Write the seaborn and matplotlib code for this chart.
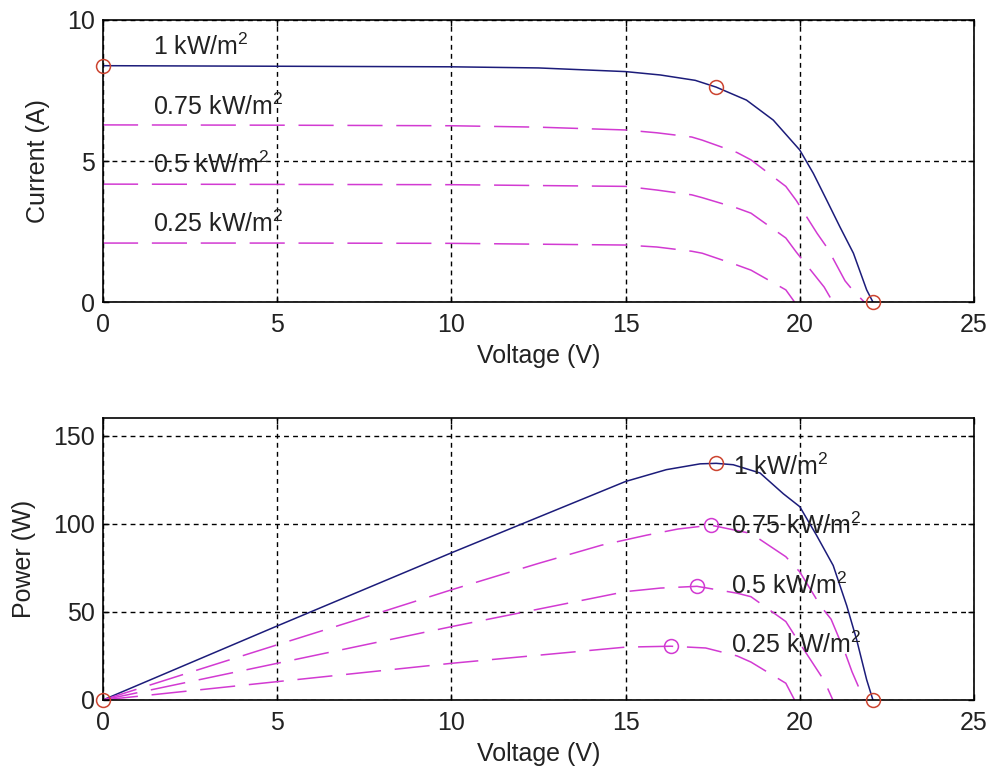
import matplotlib
matplotlib.use('Agg')
import matplotlib.pyplot as plt
import seaborn as sns

# I-V curves (V, A)
v_iv_100 = [0, 2.5, 5, 7.5, 10, 12.5, 15, 16, 17, 17.6, 18.47, 19.24, 20, 20.39, 20.77, 21.15, 21.54, 21.92, 22.1]
i_iv_100 = [8.38, 8.37, 8.36, 8.35, 8.34, 8.3, 8.17, 8.05, 7.86, 7.62, 7.16, 6.45, 5.39, 4.56, 3.62, 2.67, 1.73, 0.43, 0]
v_iv_075 = [0, 5, 10, 12.5, 15, 15.9, 16.9, 17.2, 18.2, 18.6, 19.6, 19.9, 20.5, 20.8, 21.3, 21.5, 21.85]
i_iv_075 = [6.28, 6.27, 6.25, 6.2, 6.1, 6.0, 5.85, 5.74, 5.3, 5.04, 4.1, 3.6, 2.43, 1.9, 0.75, 0.45, 0]
v_iv_050 = [0, 5, 10, 15, 15.9, 16.9, 17.2, 18.2, 18.6, 19.6, 19.9, 20.7, 20.95]
i_iv_050 = [4.18, 4.17, 4.16, 4.1, 3.97, 3.8, 3.7, 3.33, 3.15, 2.27, 1.77, 0.53, 0]
v_iv_025 = [0, 5, 10, 15, 15.9, 16.9, 17.2, 18.2, 18.6, 19.6, 19.85]
i_iv_025 = [2.09, 2.09, 2.08, 2.02, 1.95, 1.8, 1.73, 1.31, 1.13, 0.43, 0]

# P-V curves (V, W)
v_pv_100 = [0, 5, 10, 15, 16.17, 17.14, 17.6, 18.09, 18.86, 19.53, 20, 20.48, 20.96, 21.35, 21.63, 21.92, 22.1]
p_pv_100 = [0, 42, 83.5, 124, 130.7, 134, 134.3, 133.5, 128.8, 117, 109.7, 93.5, 76.3, 53.4, 34.4, 11.5, 0]
v_pv_075 = [0, 2.5, 5, 7.5, 10, 12.5, 14.3, 15.6, 16.5, 17.45, 18.6, 19.6, 20, 20.6, 20.9, 21.3, 21.5, 21.85]
p_pv_075 = [0, 15.7, 31.3, 46.8, 62.5, 77.5, 87.8, 93.5, 97, 99.2, 94.5, 81.3, 72.7, 53.3, 45.8, 26.9, 16, 0]
v_pv_050 = [0, 5, 10, 15, 16, 17.05, 18.2, 18.6, 19.6, 19.9, 20.7, 20.95]
p_pv_050 = [0, 20.8, 41.6, 61.5, 63.5, 64.5, 60.6, 58.6, 44.5, 35.2, 11, 0]
v_pv_025 = [0, 5, 10, 15, 16.3, 17.3, 18.2, 18.6, 19.6, 19.85]
p_pv_025 = [0, 10.4, 20.8, 30, 30.5, 29.5, 25, 21.5, 9.5, 0]

# marked points
v_mark_iv = [0, 17.6, 22.1]
i_mark_iv = [8.38, 7.62, 0]
v_mark_pv = [0, 17.6, 22.1]
p_mark_pv = [0, 134.3, 0]
v_mpp = [17.45, 17.05, 16.3]
p_mpp = [99.2, 64.5, 30.5]

labels = ['1 kW/m$^2$', '0.75 kW/m$^2$', '0.5 kW/m$^2$', '0.25 kW/m$^2$']
label_v_iv = [1.44, 1.44, 1.44, 1.44]
label_i_iv = [8.76, 6.63, 4.57, 2.49]
label_v_pv = [18.08, 18.04, 18.04, 18.04]
label_p_pv = [127.8, 94.4, 60.0, 26.7]

sns.set_style('ticks')
plt.rcParams['font.family'] = ['Liberation Sans', 'DejaVu Sans']
plt.rcParams['mathtext.default'] = 'regular'
plt.rcParams['font.size'] = 18

navy = '#1c1c7a'
mag = '#d23ad2'
red = '#cc4430'
txt = '#222222'

fig = plt.figure(figsize=(9.9, 7.72), dpi=100)
ax1 = fig.add_axes([0.104, 0.6088, 0.8798, 0.3653])
ax2 = fig.add_axes([0.104, 0.0933, 0.8798, 0.3652])


def curve(ax, x, y, color, dashed):
    sns.lineplot(x=x, y=y, ax=ax, color=color, lw=1.1, sort=False, estimator=None)
    if dashed:
        ax.lines[-1].set_dashes((23, 9))


curve(ax1, v_iv_100, i_iv_100, navy, False)
curve(ax1, v_iv_075, i_iv_075, mag, True)
curve(ax1, v_iv_050, i_iv_050, mag, True)
curve(ax1, v_iv_025, i_iv_025, mag, True)
ax1.plot(v_mark_iv, i_mark_iv, 'o', ms=10, mfc='none', mec=red, mew=1.1, clip_on=False, zorder=5)

curve(ax2, v_pv_100, p_pv_100, navy, False)
curve(ax2, v_pv_075, p_pv_075, mag, True)
curve(ax2, v_pv_050, p_pv_050, mag, True)
curve(ax2, v_pv_025, p_pv_025, mag, True)
ax2.plot(v_mark_pv, p_mark_pv, 'o', ms=10, mfc='none', mec=red, mew=1.1, clip_on=False, zorder=5)
ax2.plot(v_mpp, p_mpp, 'o', ms=10, mfc='none', mec=mag, mew=1.1, clip_on=False, zorder=5)

for lab, x, y in zip(labels, label_v_iv, label_i_iv):
    ax1.text(x, y, lab, color=txt, va='baseline', ha='left')
for lab, x, y in zip(labels, label_v_pv, label_p_pv):
    ax2.text(x, y, lab, color=txt, va='baseline', ha='left')

for ax, ylim, yticks in [(ax1, (0, 10), [0, 5, 10]), (ax2, (0, 160), [0, 50, 100, 150])]:
    ax.set_xlim(0, 25)
    ax.set_ylim(*ylim)
    ax.set_xticks([0, 5, 10, 15, 20, 25])
    ax.set_yticks(yticks)
    ax.grid(True, color='black', lw=1.0, linestyle=(0, (3.5, 3)))
    ax.tick_params(direction='in', length=4, width=1, colors='black',
                   top=True, right=True, labelcolor=txt, labelsize=18)
    ax.tick_params(axis='x', pad=8)
    ax.tick_params(axis='y', pad=6)
    for s in ax.spines.values():
        s.set_visible(True)
        s.set_color('black')
        s.set_linewidth(1.2)
    ax.set_xlabel('Voltage (V)', color=txt, fontsize=18, labelpad=5)

ax1.set_ylabel('Current (A)', color=txt, fontsize=18, labelpad=12)
ax2.set_ylabel('Power (W)', color=txt, fontsize=18, labelpad=12)

fig.savefig('out.png', dpi=100)
